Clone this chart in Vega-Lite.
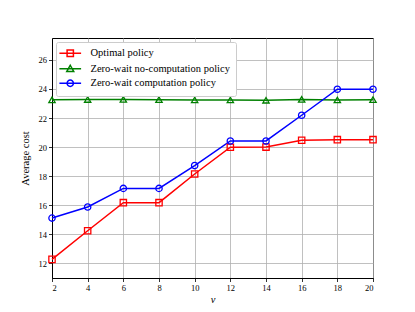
{
  "$schema": "https://vega.github.io/schema/vega-lite/v6.json",
  "width": 321,
  "height": 240,
  "autosize": {"type": "none"},
  "padding": {"left": 52, "top": 38, "right": 42, "bottom": 34},
  "background": "white",
  "config": {
    "font": "Liberation Serif",
    "view": {"stroke": "black", "strokeWidth": 1},
    "axis": {
      "labelFont": "Liberation Serif",
      "titleFont": "Liberation Serif",
      "domainColor": "black",
      "domainWidth": 1,
      "tickColor": "black",
      "tickSize": 3.5,
      "tickWidth": 0.8,
      "labelColor": "black",
      "labelFontSize": 8.5,
      "labelPadding": 2,
      "titleColor": "black",
      "titleFontSize": 10.5,
      "titleFontWeight": "normal",
      "gridColor": "#b0b0b0",
      "gridWidth": 0.8,
      "gridOpacity": 1
    },
    "legend": {"labelFont": "Liberation Serif"}
  },
  "data": {
    "values": [
      {"v": 2, "policy": "Optimal policy", "cost": 12.28},
      {"v": 4, "policy": "Optimal policy", "cost": 14.25},
      {"v": 6, "policy": "Optimal policy", "cost": 16.18},
      {"v": 8, "policy": "Optimal policy", "cost": 16.18},
      {"v": 10, "policy": "Optimal policy", "cost": 18.15},
      {"v": 12, "policy": "Optimal policy", "cost": 19.99},
      {"v": 14, "policy": "Optimal policy", "cost": 20.0},
      {"v": 16, "policy": "Optimal policy", "cost": 20.47},
      {"v": 18, "policy": "Optimal policy", "cost": 20.51},
      {"v": 20, "policy": "Optimal policy", "cost": 20.51},
      {"v": 2, "policy": "Zero-wait no-computation policy", "cost": 23.25},
      {"v": 4, "policy": "Zero-wait no-computation policy", "cost": 23.27},
      {"v": 6, "policy": "Zero-wait no-computation policy", "cost": 23.28},
      {"v": 8, "policy": "Zero-wait no-computation policy", "cost": 23.26},
      {"v": 10, "policy": "Zero-wait no-computation policy", "cost": 23.24},
      {"v": 12, "policy": "Zero-wait no-computation policy", "cost": 23.24},
      {"v": 14, "policy": "Zero-wait no-computation policy", "cost": 23.22},
      {"v": 16, "policy": "Zero-wait no-computation policy", "cost": 23.28},
      {"v": 18, "policy": "Zero-wait no-computation policy", "cost": 23.24},
      {"v": 20, "policy": "Zero-wait no-computation policy", "cost": 23.26},
      {"v": 2, "policy": "Zero-wait computation policy", "cost": 15.12},
      {"v": 4, "policy": "Zero-wait computation policy", "cost": 15.88},
      {"v": 6, "policy": "Zero-wait computation policy", "cost": 17.16},
      {"v": 8, "policy": "Zero-wait computation policy", "cost": 17.16},
      {"v": 10, "policy": "Zero-wait computation policy", "cost": 18.73},
      {"v": 12, "policy": "Zero-wait computation policy", "cost": 20.42},
      {"v": 14, "policy": "Zero-wait computation policy", "cost": 20.42},
      {"v": 16, "policy": "Zero-wait computation policy", "cost": 22.19},
      {"v": 18, "policy": "Zero-wait computation policy", "cost": 23.98},
      {"v": 20, "policy": "Zero-wait computation policy", "cost": 23.98}
    ]
  },
  "encoding": {
    "x": {
      "field": "v",
      "type": "quantitative",
      "scale": {"domain": [2, 20], "nice": false, "zero": false},
      "axis": {"values": [2, 4, 6, 8, 10, 12, 14, 16, 18, 20], "title": "v", "titleFontStyle": "italic", "titlePadding": 2}
    },
    "y": {
      "field": "cost",
      "type": "quantitative",
      "scale": {"domain": [11, 27.5], "nice": false, "zero": false},
      "axis": {"values": [12, 14, 16, 18, 20, 22, 24, 26], "title": "Average cost", "titlePadding": 8}
    }
  },
  "layer": [
    {
      "mark": {"type": "line", "strokeWidth": 1.5},
      "encoding": {
        "color": {
          "field": "policy",
          "type": "nominal",
          "scale": {"domain": ["Optimal policy", "Zero-wait no-computation policy", "Zero-wait computation policy"], "range": ["#ff0000", "#008000", "#0000ff"]},
          "legend": null
        }
      }
    },
    {
      "mark": {"type": "point", "filled": false, "size": 40, "strokeWidth": 1.3, "opacity": 1},
      "encoding": {
        "color": {
          "field": "policy",
          "type": "nominal",
          "scale": {"domain": ["Optimal policy", "Zero-wait no-computation policy", "Zero-wait computation policy"], "range": ["#ff0000", "#008000", "#0000ff"]},
          "legend": null
        },
        "shape": {
          "field": "policy",
          "type": "nominal",
          "scale": {"domain": ["Optimal policy", "Zero-wait no-computation policy", "Zero-wait computation policy"], "range": ["square", "triangle-up", "circle"]},
          "legend": null
        }
      }
    },
    {
      "mark": {"type": "point", "filled": false, "size": 49, "strokeWidth": 1.5, "opacity": 0},
      "encoding": {
        "color": {
          "field": "policy",
          "type": "nominal",
          "scale": {"domain": ["Optimal policy", "Zero-wait no-computation policy", "Zero-wait computation policy"], "range": ["#ff0000", "#008000", "#0000ff"]},
          "legend": {
            "orient": "none", "legendX": 4, "legendY": 4, "title": null,
            "fillColor": "white", "strokeColor": "#cccccc", "cornerRadius": 2, "padding": 6,
            "labelFont": "Liberation Serif", "labelLimit": 400,
            "labelFontSize": 10.5, "labelColor": "black", "symbolSize": 49, "symbolStrokeWidth": 1.5,
            "symbolOffset": 3, "labelOffset": 15, "rowPadding": 1.5, "symbolOpacity": 1
          }
        },
        "shape": {
          "field": "policy",
          "type": "nominal",
          "scale": {"domain": ["Optimal policy", "Zero-wait no-computation policy", "Zero-wait computation policy"], "range": ["M-3.1,0H3.1M-0.9,-0.9H0.9V0.9H-0.9Z", "M-3.1,0H3.1M0,-1L1,0.8H-1Z", "M-3.1,0H3.1M0.9,0A0.9,0.9,0,1,1,-0.9,0A0.9,0.9,0,1,1,0.9,0Z"]},
          "legend": {
            "orient": "none", "legendX": 4, "legendY": 4, "title": null,
            "fillColor": "white", "strokeColor": "#cccccc", "cornerRadius": 2, "padding": 6,
            "labelFont": "Liberation Serif", "labelLimit": 400,
            "labelFontSize": 10.5, "labelColor": "black", "symbolSize": 49, "symbolStrokeWidth": 1.5,
            "symbolOffset": 3, "labelOffset": 15, "rowPadding": 1.5, "symbolOpacity": 1
          }
        }
      }
    }
  ],
  "resolve": {"scale": {"shape": "independent", "color": "independent"}}
}
